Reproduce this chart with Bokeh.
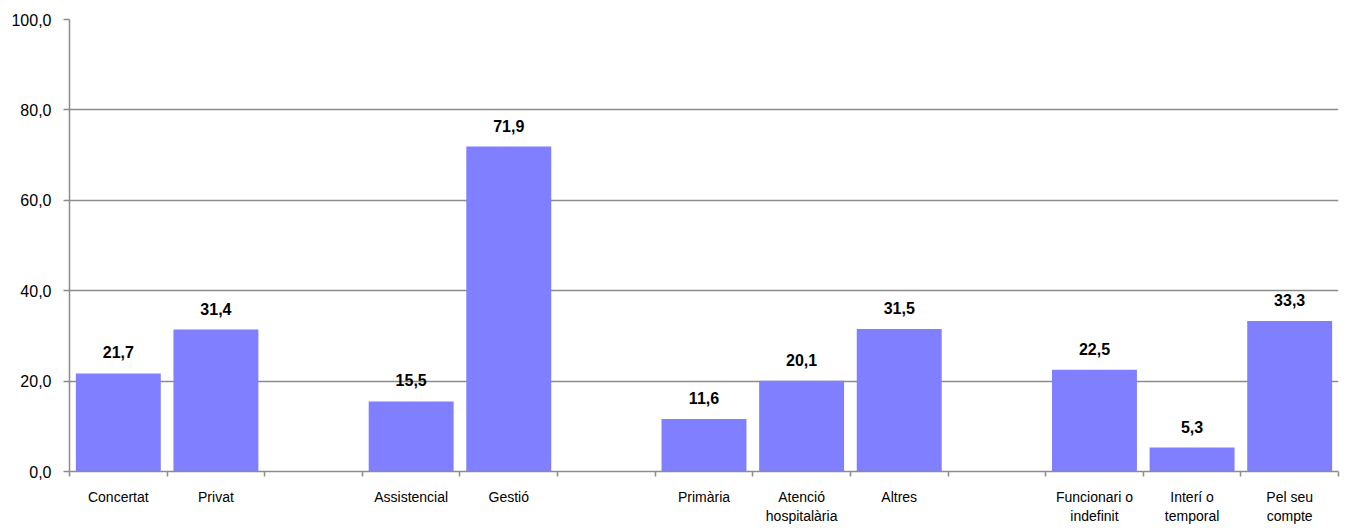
from bokeh.plotting import figure
from bokeh.models import ColumnDataSource, FixedTicker, CustomJSTickFormatter, Range1d
from bokeh.core.properties import value
from bokeh.embed import file_html
from bokeh.resources import INLINE

# ---- data ----
categories = ["Concertat", "Privat",
              "Assistencial", "Gestió",
              "Primària", "Atenció\nhospitalària", "Altres",
              "Funcionari o\nindefinit", "Interí o\ntemporal", "Pel seu\ncompte"]
values = [21.7, 31.4, 15.5, 71.9, 11.6, 20.1, 31.5, 22.5, 5.3, 33.3]
group_sizes = [2, 2, 3, 3]
y_ticks = [0, 20, 40, 60, 80, 100]

# slot layout: one empty slot between groups
xs = []
slot = 0
for gi, n in enumerate(group_sizes):
    for _ in range(n):
        xs.append(slot + 0.5)
        slot += 1
    if gi < len(group_sizes) - 1:
        slot += 1
n_slots = slot
boundaries = list(range(n_slots + 1))

labels = [f"{v:.1f}".replace(".", ",") for v in values]
src = ColumnDataSource(dict(x=xs, top=values, lab=labels))

FONT = "Liberation Sans"

p = figure(width=1347, height=528, output_backend="svg", toolbar_location=None,
           x_range=Range1d(0, n_slots), y_range=Range1d(0, 100),
           min_border_left=69, min_border_right=9, min_border_top=19, min_border_bottom=57)
p.outline_line_color = None
p.background_fill_color = "white"
p.border_fill_color = "white"

p.vbar(x="x", top="top", width=0.87, source=src, fill_color="#7f7fff", line_color=None)
p.text(x="x", y="top", text="lab", source=src, text_align="center", text_baseline="bottom",
       y_offset=-15, text_font=value(FONT), text_font_size="16px", text_font_style="bold",
       text_color="black")

# y axis
p.yaxis.ticker = FixedTicker(ticks=y_ticks)
p.yaxis.formatter = CustomJSTickFormatter(code="return tick.toFixed(1).replace('.', ',');")
p.yaxis.axis_line_color = "#8c8c8c"
p.yaxis.axis_line_width = 1.5
p.yaxis.major_tick_line_color = "#8c8c8c"
p.yaxis.major_tick_line_width = 1.5
p.yaxis.major_tick_in = 0
p.yaxis.major_tick_out = 6
p.yaxis.minor_tick_line_color = None
p.yaxis.major_label_standoff = 12
p.yaxis.major_label_text_font = FONT
p.yaxis.major_label_text_font_size = "16px"
p.yaxis.major_label_text_color = "black"

# x axis
p.xaxis.ticker = FixedTicker(ticks=xs, minor_ticks=boundaries)
p.xaxis.major_label_overrides = {x: c for x, c in zip(xs, categories)}
p.xaxis.axis_line_color = "#8c8c8c"
p.xaxis.axis_line_width = 1.5
p.xaxis.major_tick_line_color = None
p.xaxis.major_tick_in = 0
p.xaxis.major_tick_out = 0
p.xaxis.minor_tick_line_color = "#8c8c8c"
p.xaxis.minor_tick_line_width = 1.5
p.xaxis.minor_tick_in = 0
p.xaxis.minor_tick_out = 5
p.xaxis.major_label_standoff = 12
p.xaxis.major_label_text_font = FONT
p.xaxis.major_label_text_font_size = "14px"
p.xaxis.major_label_text_color = "black"

# grid
p.xgrid.grid_line_color = None
p.ygrid.ticker = FixedTicker(ticks=y_ticks)
p.ygrid.grid_line_color = "#8c8c8c"
p.ygrid.grid_line_width = 1.5

open("out.html", "w").write(file_html(p, INLINE))
